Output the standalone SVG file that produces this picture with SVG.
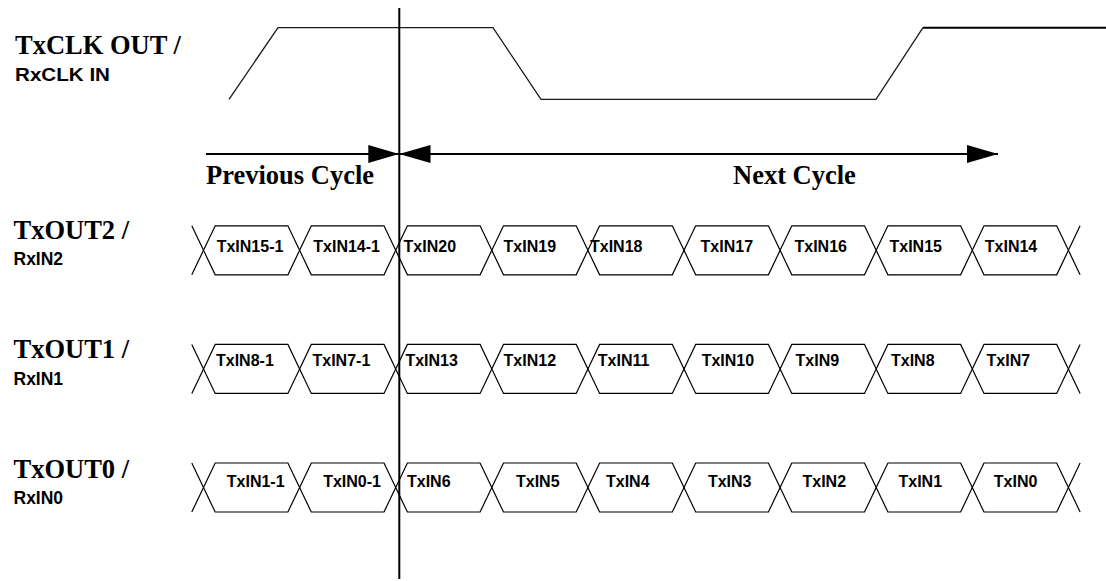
<svg xmlns="http://www.w3.org/2000/svg" width="1106" height="581" viewBox="0 0 1106 581">
<style>
.bg{fill:#ffffff}
.sig{font-family:"Liberation Serif","Times New Roman",serif;font-weight:bold;font-size:26.5px;fill:#000}
.sub{font-family:"Liberation Sans",Arial,sans-serif;font-weight:bold;font-size:17.5px;fill:#000}
.hl{font-family:"Liberation Sans",Arial,sans-serif;font-weight:bold;font-size:16px;fill:#000}
.hex{fill:none;stroke:#000;stroke-width:1.2;stroke-linejoin:miter}
.xl{fill:none;stroke:#000;stroke-width:1.2}
.clk{fill:none;stroke:#1a1a1a;stroke-width:1.3}
.thick{stroke:#000;stroke-width:2;fill:none}
</style>
<defs>
<marker id="ah" viewBox="0 0 31 18" refX="31" refY="9" markerWidth="31" markerHeight="18" markerUnits="userSpaceOnUse" orient="auto-start-reverse">
<path d="M0,0 L31,9 L0,18 Z" fill="#000"/>
</marker>
</defs>
<rect class="bg" x="0" y="0" width="1106" height="581"/>

<g id="labels">
<text class="sig" x="15" y="53.5">TxCLK OUT /</text>
<text class="sub" x="15" y="80.7" textLength="95" lengthAdjust="spacingAndGlyphs">RxCLK IN</text>
<text class="sig" x="13.5" y="238.5">TxOUT2 /</text>
<text class="sub" x="13.5" y="265">RxIN2</text>
<text class="sig" x="13.5" y="358.3">TxOUT1 /</text>
<text class="sub" x="13.5" y="385">RxIN1</text>
<text class="sig" x="13.5" y="478.3">TxOUT0 /</text>
<text class="sub" x="13.5" y="504.3">RxIN0</text>
</g>

<g id="clock">
<polyline class="clk" points="229,99.3 278,27.7 493,27.7 541,99.3 876,99.3 923,27.7"/>
<line class="thick" x1="923" y1="27.7" x2="1106" y2="27.7"/>
</g>

<g id="connectors">
<line class="thick" x1="399.3" y1="8" x2="399.3" y2="579"/>
<line class="thick" x1="206" y1="154" x2="399.3" y2="154" marker-end="url(#ah)"/>
<line class="thick" x1="399.5" y1="154" x2="998" y2="154" marker-start="url(#ah)" marker-end="url(#ah)"/>
<text class="sig" x="206" y="184.3">Previous Cycle</text>
<text class="sig" x="733" y="184.3">Next Cycle</text>
</g>

<!-- Row 2: center 250.3 -->
<g id="row2">
<path class="xl" d="M203.5,250.3 L191.8,225.8 M203.5,250.3 L191.8,274.8 M1068.4,250.3 L1080.1,225.8 M1068.4,250.3 L1080.1,274.8"/>
<g id="r2h0"><polygon class="hex" points="203.5,250.3 215.2,225.8 287.9,225.8 299.6,250.3 287.9,274.8 215.2,274.8"/><text class="hl" x="216.7" y="252.3">TxIN15-1</text></g>
<g id="r2h1"><polygon class="hex" points="299.6,250.3 311.3,225.8 384,225.8 395.7,250.3 384,274.8 311.3,274.8"/><text class="hl" x="313.3" y="252.3">TxIN14-1</text></g>
<g id="r2h2"><polygon class="hex" points="395.7,250.3 407.4,225.8 480.1,225.8 491.8,250.3 480.1,274.8 407.4,274.8"/><text class="hl" x="403.6" y="252.3">TxIN20</text></g>
<g id="r2h3"><polygon class="hex" points="491.8,250.3 503.5,225.8 576.2,225.8 587.9,250.3 576.2,274.8 503.5,274.8"/><text class="hl" x="503.6" y="252.3">TxIN19</text></g>
<g id="r2h4"><polygon class="hex" points="587.9,250.3 599.6,225.8 672.3,225.8 684,250.3 672.3,274.8 599.6,274.8"/><text class="hl" x="590" y="252.3">TxIN18</text></g>
<g id="r2h5"><polygon class="hex" points="684,250.3 695.7,225.8 768.4,225.8 780.1,250.3 768.4,274.8 695.7,274.8"/><text class="hl" x="700.6" y="252.3">TxIN17</text></g>
<g id="r2h6"><polygon class="hex" points="780.1,250.3 791.8,225.8 864.5,225.8 876.2,250.3 864.5,274.8 791.8,274.8"/><text class="hl" x="794.5" y="252.3">TxIN16</text></g>
<g id="r2h7"><polygon class="hex" points="876.2,250.3 887.9,225.8 960.6,225.8 972.3,250.3 960.6,274.8 887.9,274.8"/><text class="hl" x="889.5" y="252.3">TxIN15</text></g>
<g id="r2h8"><polygon class="hex" points="972.3,250.3 984,225.8 1056.7,225.8 1068.4,250.3 1056.7,274.8 984,274.8"/><text class="hl" x="984.8" y="252.3">TxIN14</text></g>
</g>

<!-- Row 1: center 368.9 -->
<g id="row1">
<path class="xl" d="M203.5,368.9 L191.8,344.4 M203.5,368.9 L191.8,393.4 M1068.4,368.9 L1080.1,344.4 M1068.4,368.9 L1080.1,393.4"/>
<g id="r1h0"><polygon class="hex" points="203.5,368.9 215.2,344.4 287.9,344.4 299.6,368.9 287.9,393.4 215.2,393.4"/><text class="hl" x="216" y="366">TxIN8-1</text></g>
<g id="r1h1"><polygon class="hex" points="299.6,368.9 311.3,344.4 384,344.4 395.7,368.9 384,393.4 311.3,393.4"/><text class="hl" x="312.5" y="366">TxIN7-1</text></g>
<g id="r1h2"><polygon class="hex" points="395.7,368.9 407.4,344.4 480.1,344.4 491.8,368.9 480.1,393.4 407.4,393.4"/><text class="hl" x="405.4" y="366">TxIN13</text></g>
<g id="r1h3"><polygon class="hex" points="491.8,368.9 503.5,344.4 576.2,344.4 587.9,368.9 576.2,393.4 503.5,393.4"/><text class="hl" x="503.6" y="366">TxIN12</text></g>
<g id="r1h4"><polygon class="hex" points="587.9,368.9 599.6,344.4 672.3,344.4 684,368.9 672.3,393.4 599.6,393.4"/><text class="hl" x="597.8" y="366">TxIN11</text></g>
<g id="r1h5"><polygon class="hex" points="684,368.9 695.7,344.4 768.4,344.4 780.1,368.9 768.4,393.4 695.7,393.4"/><text class="hl" x="701.7" y="366">TxIN10</text></g>
<g id="r1h6"><polygon class="hex" points="780.1,368.9 791.8,344.4 864.5,344.4 876.2,368.9 864.5,393.4 791.8,393.4"/><text class="hl" x="795.6" y="366">TxIN9</text></g>
<g id="r1h7"><polygon class="hex" points="876.2,368.9 887.9,344.4 960.6,344.4 972.3,368.9 960.6,393.4 887.9,393.4"/><text class="hl" x="891" y="366">TxIN8</text></g>
<g id="r1h8"><polygon class="hex" points="972.3,368.9 984,344.4 1056.7,344.4 1068.4,368.9 1056.7,393.4 984,393.4"/><text class="hl" x="986.6" y="366">TxIN7</text></g>
</g>

<!-- Row 0: center 487.5 -->
<g id="row0">
<path class="xl" d="M203.5,487.5 L191.8,463 M203.5,487.5 L191.8,512 M1068.4,487.5 L1080.1,463 M1068.4,487.5 L1080.1,512"/>
<g id="r0h0"><polygon class="hex" points="203.5,487.5 215.2,463 287.9,463 299.6,487.5 287.9,512 215.2,512"/><text class="hl" x="226.8" y="486.7">TxIN1-1</text></g>
<g id="r0h1"><polygon class="hex" points="299.6,487.5 311.3,463 384,463 395.7,487.5 384,512 311.3,512"/><text class="hl" x="323.2" y="486.7">TxIN0-1</text></g>
<g id="r0h2"><polygon class="hex" points="395.7,487.5 407.4,463 480.1,463 491.8,487.5 480.1,512 407.4,512"/><text class="hl" x="407" y="486.7">TxIN6</text></g>
<g id="r0h3"><polygon class="hex" points="491.8,487.5 503.5,463 576.2,463 587.9,487.5 576.2,512 503.5,512"/><text class="hl" x="516" y="486.7">TxIN5</text></g>
<g id="r0h4"><polygon class="hex" points="587.9,487.5 599.6,463 672.3,463 684,487.5 672.3,512 599.6,512"/><text class="hl" x="606" y="486.7">TxIN4</text></g>
<g id="r0h5"><polygon class="hex" points="684,487.5 695.7,463 768.4,463 780.1,487.5 768.4,512 695.7,512"/><text class="hl" x="707.9" y="486.7">TxIN3</text></g>
<g id="r0h6"><polygon class="hex" points="780.1,487.5 791.8,463 864.5,463 876.2,487.5 864.5,512 791.8,512"/><text class="hl" x="802.5" y="486.7">TxIN2</text></g>
<g id="r0h7"><polygon class="hex" points="876.2,487.5 887.9,463 960.6,463 972.3,487.5 960.6,512 887.9,512"/><text class="hl" x="898.5" y="486.7">TxIN1</text></g>
<g id="r0h8"><polygon class="hex" points="972.3,487.5 984,463 1056.7,463 1068.4,487.5 1056.7,512 984,512"/><text class="hl" x="993.8" y="486.7">TxIN0</text></g>
</g>
</svg>
